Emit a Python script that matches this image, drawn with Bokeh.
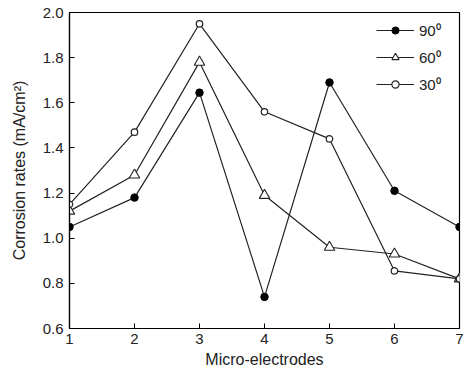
from bokeh.plotting import figure
from bokeh.models import Legend, LegendItem, FixedTicker, CustomJSTickFormatter
from bokeh.embed import file_html
from bokeh.resources import INLINE

electrodes = [1, 2, 3, 4, 5, 6, 7]
rate_90 = [1.05, 1.18, 1.645, 0.74, 1.69, 1.21, 1.05]
rate_60 = [1.12, 1.28, 1.78, 1.19, 0.96, 0.93, 0.82]
rate_30 = [1.15, 1.47, 1.95, 1.56, 1.44, 0.855, 0.82]
x_ticks = [1, 2, 3, 4, 5, 6, 7]
y_ticks = [0.6, 0.8, 1.0, 1.2, 1.4, 1.6, 1.8, 2.0]

p = figure(width=471, height=379, output_backend="svg", toolbar_location=None,
           x_range=(1, 7), y_range=(0.6, 2.0),
           min_border_left=69, min_border_right=12, min_border_top=12, min_border_bottom=51)
p.background_fill_color = "white"
p.border_fill_color = "white"
p.outline_line_color = "black"
p.outline_line_width = 1.2
p.grid.visible = False

font = "Liberation Sans"
for ax in (p.xaxis[0], p.yaxis[0]):
    ax.major_tick_in = 5
    ax.major_tick_out = 0
    ax.minor_tick_line_color = None
    ax.axis_line_color = "black"
    ax.axis_line_width = 1.2
    ax.major_tick_line_color = "black"
    ax.major_label_text_font = font
    ax.major_label_text_font_size = "15px"
    ax.major_label_text_color = "#222222"
    ax.axis_label_text_font = font
    ax.axis_label_text_font_size = "16px"
    ax.axis_label_text_font_style = "normal"
    ax.axis_label_text_color = "#222222"

p.xaxis.ticker = FixedTicker(ticks=x_ticks)
p.yaxis.ticker = FixedTicker(ticks=y_ticks)
p.yaxis.formatter = CustomJSTickFormatter(code="return tick.toFixed(1);")
p.xaxis.axis_label = "Micro-electrodes"
p.yaxis.axis_label = "Corrosion rates (mA/cm²)"
p.xaxis.major_label_standoff = 5
p.yaxis.major_label_standoff = 6
p.xaxis.axis_label_standoff = 4
p.yaxis.axis_label_standoff = 12

l90 = p.line(electrodes, rate_90, line_color="#222222", line_width=1.2)
m90 = p.scatter(electrodes, rate_90, marker="circle", size=7.5, fill_color="black", line_color="black")
l60 = p.line(electrodes, rate_60, line_color="#222222", line_width=1.2)
m60 = p.scatter(electrodes, rate_60, marker="triangle", size=10.5, fill_color="white", line_color="#222222", line_width=1.1)
l30 = p.line(electrodes, rate_30, line_color="#222222", line_width=1.2)
m30 = p.scatter(electrodes, rate_30, marker="circle", size=6.5, fill_color="white", line_color="#222222", line_width=1.2)

legend = Legend(items=[
    LegendItem(label="90⁰", renderers=[l90, m90]),
    LegendItem(label="60⁰", renderers=[l60, m60]),
    LegendItem(label="30⁰", renderers=[l30, m30]),
], location=(307, 234))
legend.border_line_color = None
legend.background_fill_alpha = 0
legend.label_text_font = font
legend.label_text_font_size = "15px"
legend.label_text_color = "#222222"
legend.glyph_width = 38
legend.glyph_height = 18
legend.label_height = 18
legend.spacing = 7
legend.label_standoff = 5
legend.margin = 0
legend.padding = 0
p.add_layout(legend)

open("out.html", "w").write(file_html(p, INLINE))
